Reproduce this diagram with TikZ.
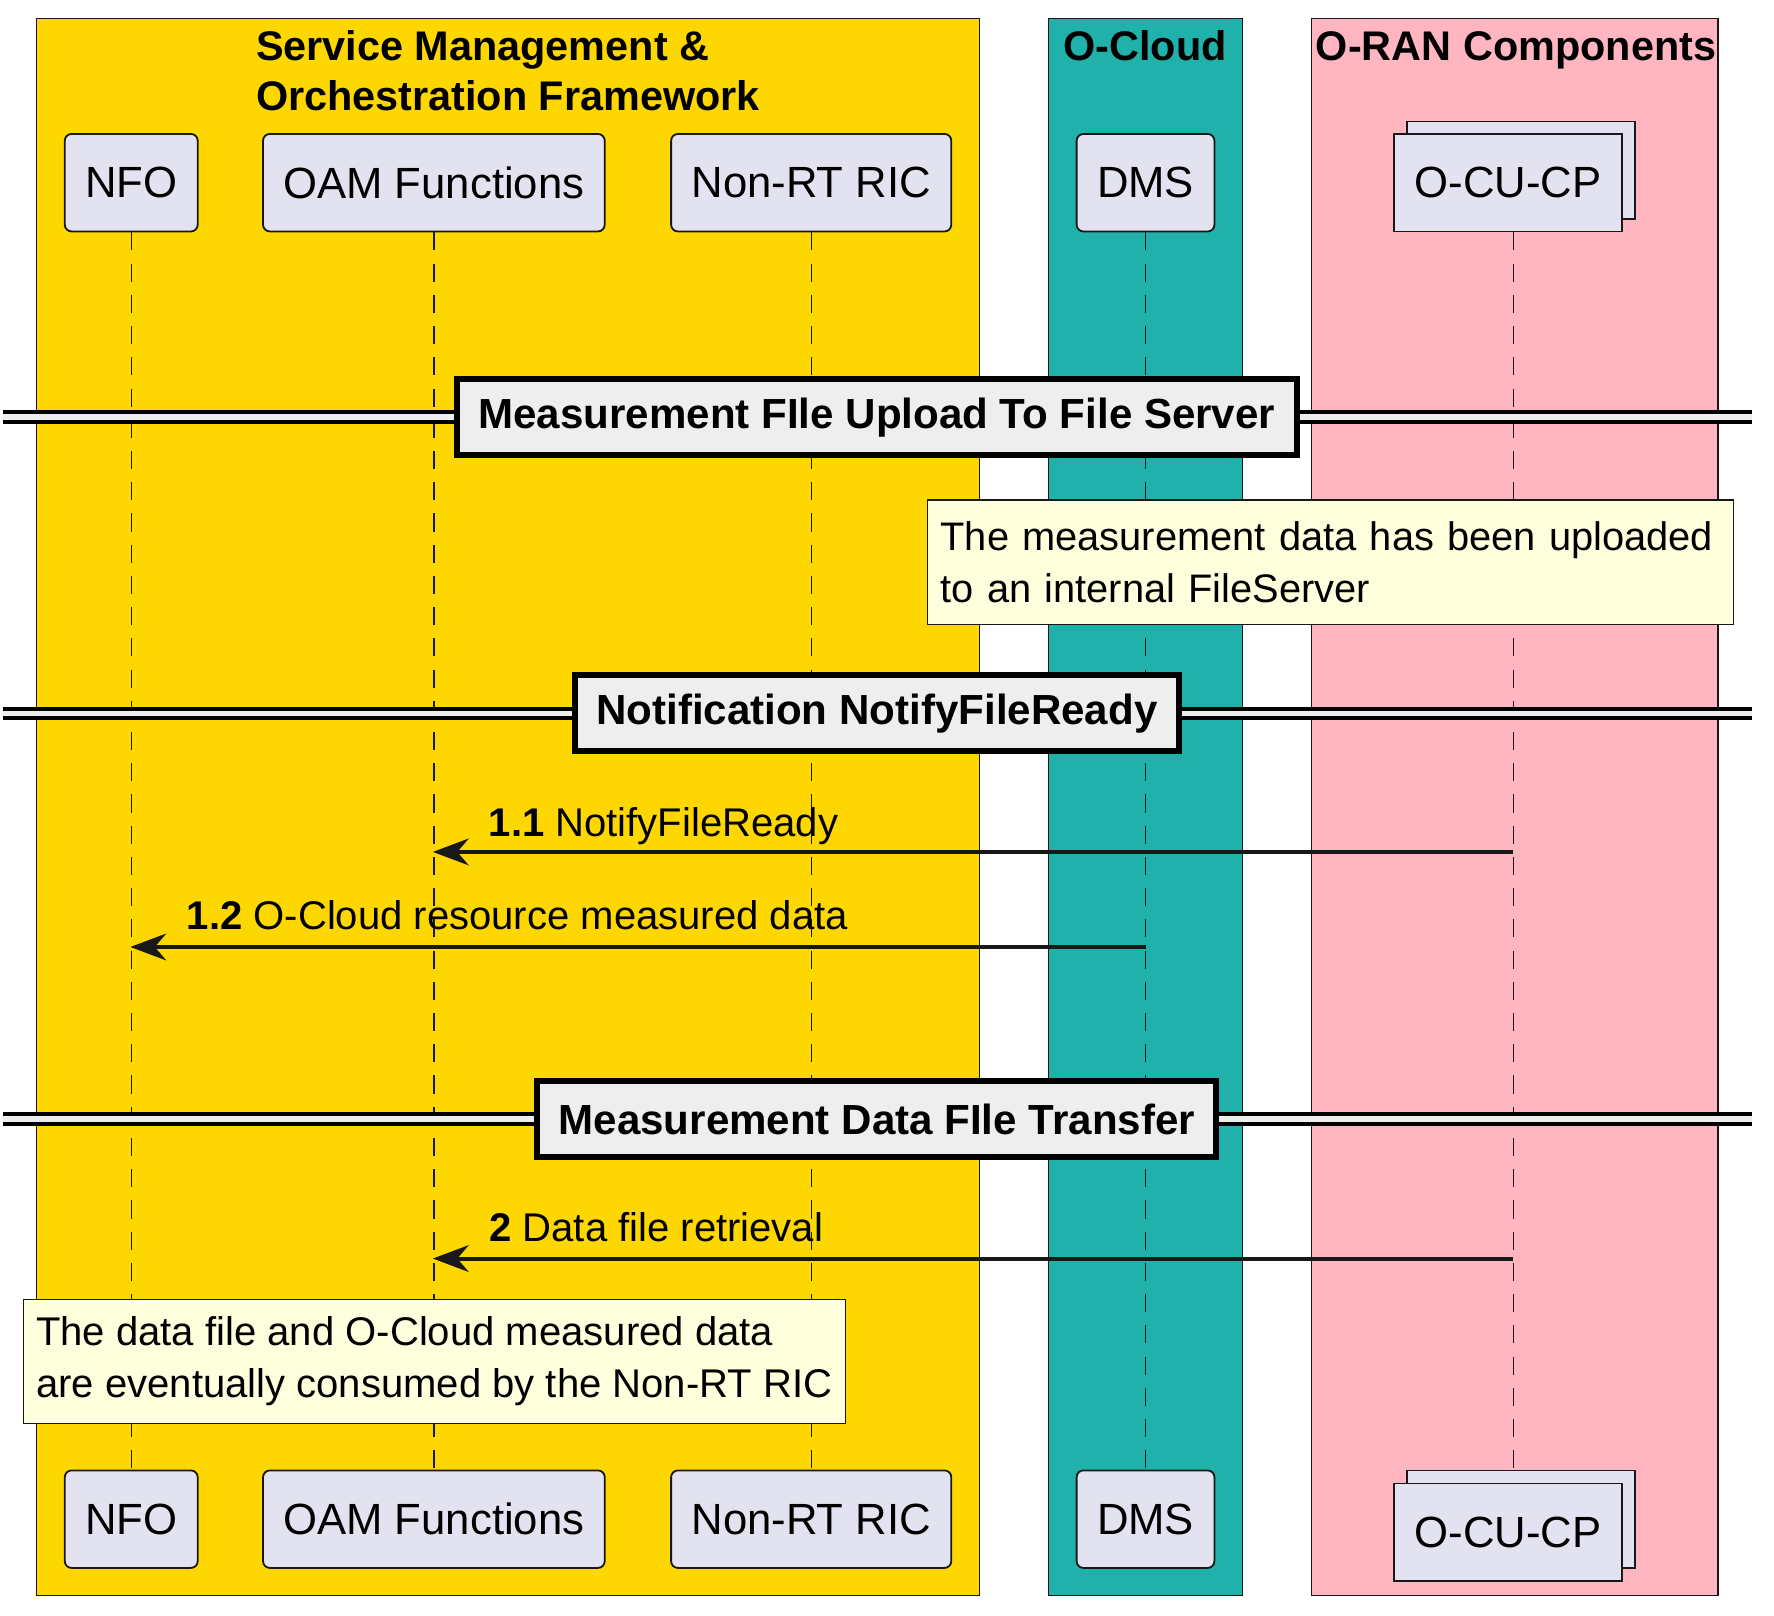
\documentclass[tikz,border=0pt]{standalone}
\usepackage{fontspec}
\setmainfont{Liberation Sans}
\usetikzlibrary{arrows.meta,positioning}
\definecolor{smofill}{HTML}{FFD700}
\definecolor{cloudfill}{HTML}{20B2AA}
\definecolor{ranfill}{HTML}{FFB6C1}
\definecolor{partfill}{HTML}{E2E2F0}
\definecolor{notefill}{HTML}{FEFFDD}
\definecolor{sepfill}{HTML}{EEEEEE}
\definecolor{umlline}{HTML}{181818}
\begin{document}
\begin{tikzpicture}[x=.5pt,y=-.5pt,
grpbox/.style={draw=umlline,line width=.5pt},
grptitle/.style={font=\fontsize{18.3}{21.8}\selectfont\bfseries,inner sep=0pt,align=left},
partbox/.style={draw=umlline,fill=partfill,line width=.8pt,rounded corners=3pt,
minimum height=43.1pt,inner xsep=9pt,inner ysep=0pt,font=\fontsize{19.3}{23}\selectfont},
stackbox/.style={partbox,rounded corners=0pt},
lifeline/.style={draw=umlline,line width=.6pt,dash pattern=on 8pt off 5.8pt},
sepbox/.style={draw=black,fill=sepfill,line width=2.6pt,minimum height=33.5pt,
inner xsep=9.5pt,font=\fontsize{18.6}{22}\selectfont\bfseries},
sepline/.style={draw=black,line width=1.77pt,double=sepfill,double distance=2.36pt},
notebox/.style={draw=umlline,fill=notefill,line width=.5pt,inner xsep=5.75pt,
minimum height=55pt,align=left,font=\fontsize{17.6}{23}\selectfont},
msgline/.style={draw=umlline,line width=1.75pt,-{Stealth[length=15.8pt,width=11.8pt,inset=5pt]}},
msglabel/.style={inner sep=0pt,anchor=base west,font=\fontsize{17.7}{21}\selectfont}]
\useasboundingbox (0,0) rectangle (1568,1427.5);
\draw[grpbox,fill=smofill] (32,16) rectangle (866,1410.5);
\draw[grpbox,fill=cloudfill] (927,16) rectangle (1098,1410.5);
\draw[grpbox,fill=ranfill] (1159,16) rectangle (1518.5,1410.5);
\node[grptitle,anchor=north] (smotitle) at (449,27) {Service Management \&\\Orchestration Framework};
\node[grptitle,anchor=base] (cloudtitle) at (1012,53.6) {O-Cloud};
\node[grptitle,anchor=base] (rantitle) at (1340,53.6) {O-RAN Components};
\node[partbox] (nfo) at (116,161.5) {NFO};
\node[partbox] (oam) at (383.5,161.5) {OAM Functions};
\node[partbox] (ric) at (717,161.5) {Non-RT RIC};
\node[partbox] (dms) at (1012.5,161.5) {DMS};
\node[stackbox] (ocucpback) at (1344.5,150.5) {\phantom{O-CU-CP}};
\node[stackbox] (ocucp) at (1333,161.5) {O-CU-CP};
\node[partbox] (nfob) at (116,1342.75) {NFO};
\node[partbox] (oamb) at (383.5,1342.75) {OAM Functions};
\node[partbox] (ricb) at (717,1342.75) {Non-RT RIC};
\node[partbox] (dmsb) at (1012.5,1342.75) {DMS};
\node[stackbox] (ocucpbackb) at (1344.5,1342.75) {\phantom{O-CU-CP}};
\node[stackbox] (ocucpb) at (1333,1354.25) {O-CU-CP};
\coordinate (ranlife) at (1337.5,0);
\draw[lifeline] (nfo.south) -- (nfob.north);
\draw[lifeline] (oam.south) -- (oamb.north);
\draw[lifeline] (ric.south) -- (ricb.north);
\draw[lifeline] (dms.south) -- (dmsb.north);
\draw[lifeline] (ocucp.south -| ranlife) -- (ocucpbackb.north -| ranlife);
\node[sepbox] (sep1) at (775,368.7) {Measurement FIle Upload To File Server};
\coordinate (sep1l) at (2.5,368.7);
\coordinate (sep1r) at (1548.5,368.7);
\draw[sepline] (sep1l) -- (sep1.west);
\draw[sepline] (sep1.east) -- (sep1r);
\node[notebox,anchor=north west,text width=344.6pt] (note1) at (819.3,441.4) {The measurement data has been uploaded\\to an internal FileServer};
\node[sepbox] (sep2) at (775,630.5) {Notification NotifyFileReady};
\coordinate (sep2l) at (2.5,630.5);
\coordinate (sep2r) at (1548.5,630.5);
\draw[sepline] (sep2l) -- (sep2.west);
\draw[sepline] (sep2.east) -- (sep2r);
\coordinate (m11s) at (1337.5,753);
\coordinate (m11e) at (382.6,753);
\draw[msgline] (m11s) -- (m11e);
\node[msglabel] (m11l) at ([shift={(49,-13.5)}]m11e) {\textbf{1.1} NotifyFileReady};
\coordinate (m12s) at (1012.9,837);
\coordinate (m12e) at (115.2,837);
\draw[msgline] (m12s) -- (m12e);
\node[msglabel] (m12l) at ([shift={(49.5,-15)}]m12e) {\textbf{1.2} O-Cloud resource measured data};
\node[sepbox] (sep3) at (775,989.2) {Measurement Data FIle Transfer};
\coordinate (sep3l) at (2.5,989.2);
\coordinate (sep3r) at (1548.5,989.2);
\draw[sepline] (sep3l) -- (sep3.west);
\draw[sepline] (sep3.east) -- (sep3r);
\coordinate (m2s) at (1337.5,1112.4);
\coordinate (m2e) at (382.6,1112.4);
\draw[msgline] (m2s) -- (m2e);
\node[msglabel] (m2l) at ([shift={(49.5,-14.8)}]m2e) {\textbf{2} Data file retrieval};
\node[notebox,anchor=north west,font=\fontsize{17.7}{23}\selectfont] (note2) at (20,1147.8) {The data file and O-Cloud measured data\\are eventually consumed by the Non-RT RIC};
\end{tikzpicture}
\end{document}
